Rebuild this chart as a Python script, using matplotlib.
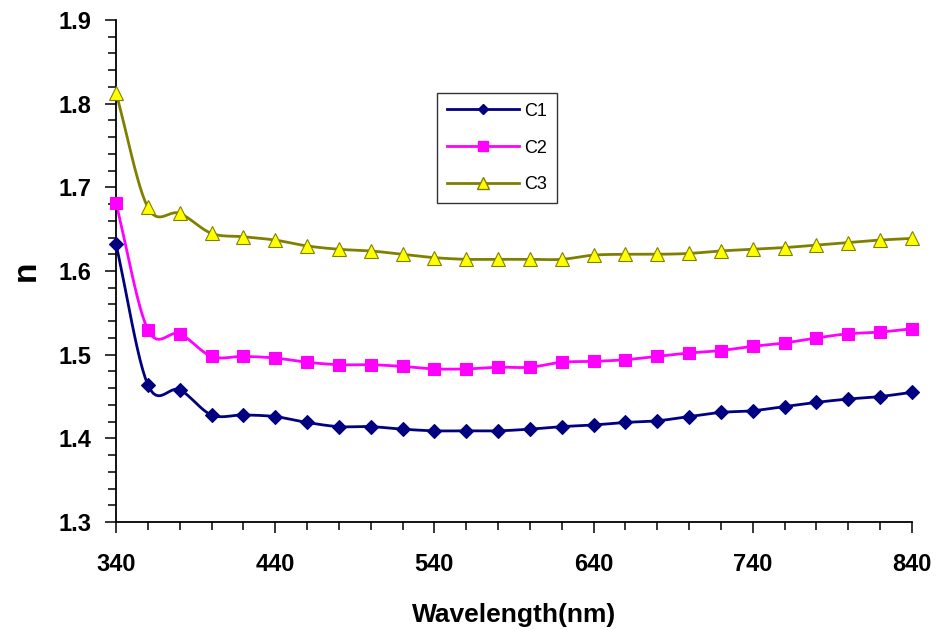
import numpy as np
import matplotlib
matplotlib.use("Agg")
import matplotlib.pyplot as plt
from matplotlib.ticker import MultipleLocator, FixedLocator

plt.rcParams['font.family'] = ['Liberation Sans', 'DejaVu Sans']

wavelength = [340, 360, 380, 400, 420, 440, 460, 480, 500, 520, 540, 560, 580,
              600, 620, 640, 660, 680, 700, 720, 740, 760, 780, 800, 820, 840]
c1 = [1.632, 1.464, 1.458, 1.428, 1.428, 1.426, 1.419, 1.414, 1.414, 1.411, 1.409,
      1.409, 1.409, 1.411, 1.414, 1.416, 1.419, 1.421, 1.426, 1.431, 1.433, 1.438,
      1.443, 1.447, 1.450, 1.455]
c2 = [1.681, 1.530, 1.525, 1.498, 1.498, 1.496, 1.491, 1.488, 1.488, 1.486, 1.483,
      1.483, 1.485, 1.485, 1.491, 1.492, 1.494, 1.498, 1.502, 1.505, 1.510, 1.514,
      1.520, 1.525, 1.527, 1.531]
c3 = [1.813, 1.676, 1.669, 1.645, 1.641, 1.637, 1.630, 1.626, 1.624, 1.620, 1.616,
      1.614, 1.614, 1.614, 1.614, 1.619, 1.620, 1.620, 1.621, 1.624, 1.626, 1.628,
      1.631, 1.634, 1.637, 1.639]
series_names = ['C1', 'C2', 'C3']
x_major_ticks = [340, 440, 540, 640, 740, 840]


def smooth(x, y, n=12):
    # Catmull-Rom style curve through the data points (Excel "smoothed line" look)
    x = np.asarray(x, float)
    y = np.asarray(y, float)
    px = np.concatenate([[2 * x[0] - x[1]], x, [2 * x[-1] - x[-2]]])
    py = np.concatenate([[2 * y[0] - y[1]], y, [2 * y[-1] - y[-2]]])
    xs, ys = [], []
    t = np.linspace(0, 1, n, endpoint=False)
    for i in range(1, len(px) - 2):
        p0, p1, p2, p3 = (np.array([px[j], py[j]]) for j in (i - 1, i, i + 1, i + 2))
        tt = t[:, None]
        pts = 0.5 * ((2 * p1) + (-p0 + p2) * tt + (2 * p0 - 5 * p1 + 4 * p2 - p3) * tt ** 2
                     + (-p0 + 3 * p1 - 3 * p2 + p3) * tt ** 3)
        xs.extend(pts[:, 0]); ys.extend(pts[:, 1])
    xs.append(x[-1]); ys.append(y[-1])
    return np.array(xs), np.array(ys)


fig = plt.figure(figsize=(9.41, 6.3), dpi=100)
ax = fig.add_axes([0.1233, 0.1714, 0.8457, 0.7968])

styles = [
    dict(color='#000080', marker='D', mfc='#000080', mec='#000080', ms=7),
    dict(color='#FF00FF', marker='s', mfc='#FF00FF', mec='#FF00FF', ms=9),
    dict(color='#808000', marker='^', mfc='#FFFF00', mec='#808000', ms=10),
]
for name, vals, st in zip(series_names, [c1, c2, c3], styles):
    sx, sy = smooth(wavelength, vals)
    ax.plot(sx, sy, color=st['color'], lw=2, zorder=2)
    ax.plot(wavelength, vals, ls='none', marker=st['marker'], ms=st['ms'],
            mfc=st['mfc'], mec=st['mec'], mew=0.8, zorder=3, clip_on=False)
    ax.plot([], [], color=st['color'], lw=2, marker=st['marker'], ms=st['ms'] * 0.8,
            mfc=st['mfc'], mec=st['mec'], label=name)

ax.set_xlim(340, 840)
ax.set_ylim(1.3, 1.9)
ax.xaxis.set_major_locator(FixedLocator(x_major_ticks))
ax.xaxis.set_minor_locator(MultipleLocator(20))
ax.yaxis.set_major_locator(MultipleLocator(0.1))
ax.yaxis.set_minor_locator(MultipleLocator(0.02))
ax.yaxis.set_major_formatter(matplotlib.ticker.FormatStrFormatter('%.1f'))

for s in ['top', 'right']:
    ax.spines[s].set_visible(False)
for s in ['left', 'bottom']:
    ax.spines[s].set_linewidth(1.3)
ax.tick_params(axis='both', which='both', direction='out', width=1.1, color='black')
ax.tick_params(axis='both', which='major', length=8, labelsize=17)
ax.tick_params(axis='x', which='major', pad=14)
ax.tick_params(axis='y', which='major', pad=10)
ax.tick_params(axis='both', which='minor', length=6)
for lab in ax.get_xticklabels() + ax.get_yticklabels():
    lab.set_fontweight('bold')

ax.set_xlabel('Wavelength(nm)', fontsize=19, fontweight='bold', labelpad=20)
ax.set_ylabel('n', fontsize=24, fontweight='bold', labelpad=12)

leg = ax.legend(loc='upper left', bbox_to_anchor=(0.403, 0.855), frameon=True,
                fancybox=False, edgecolor='black', fontsize=13, handlelength=4.0,
                labelspacing=1.1, borderpad=0.55, handletextpad=0.3,
                borderaxespad=0.0)
leg.get_frame().set_linewidth(1.0)

fig.savefig('out.png', dpi=100)
